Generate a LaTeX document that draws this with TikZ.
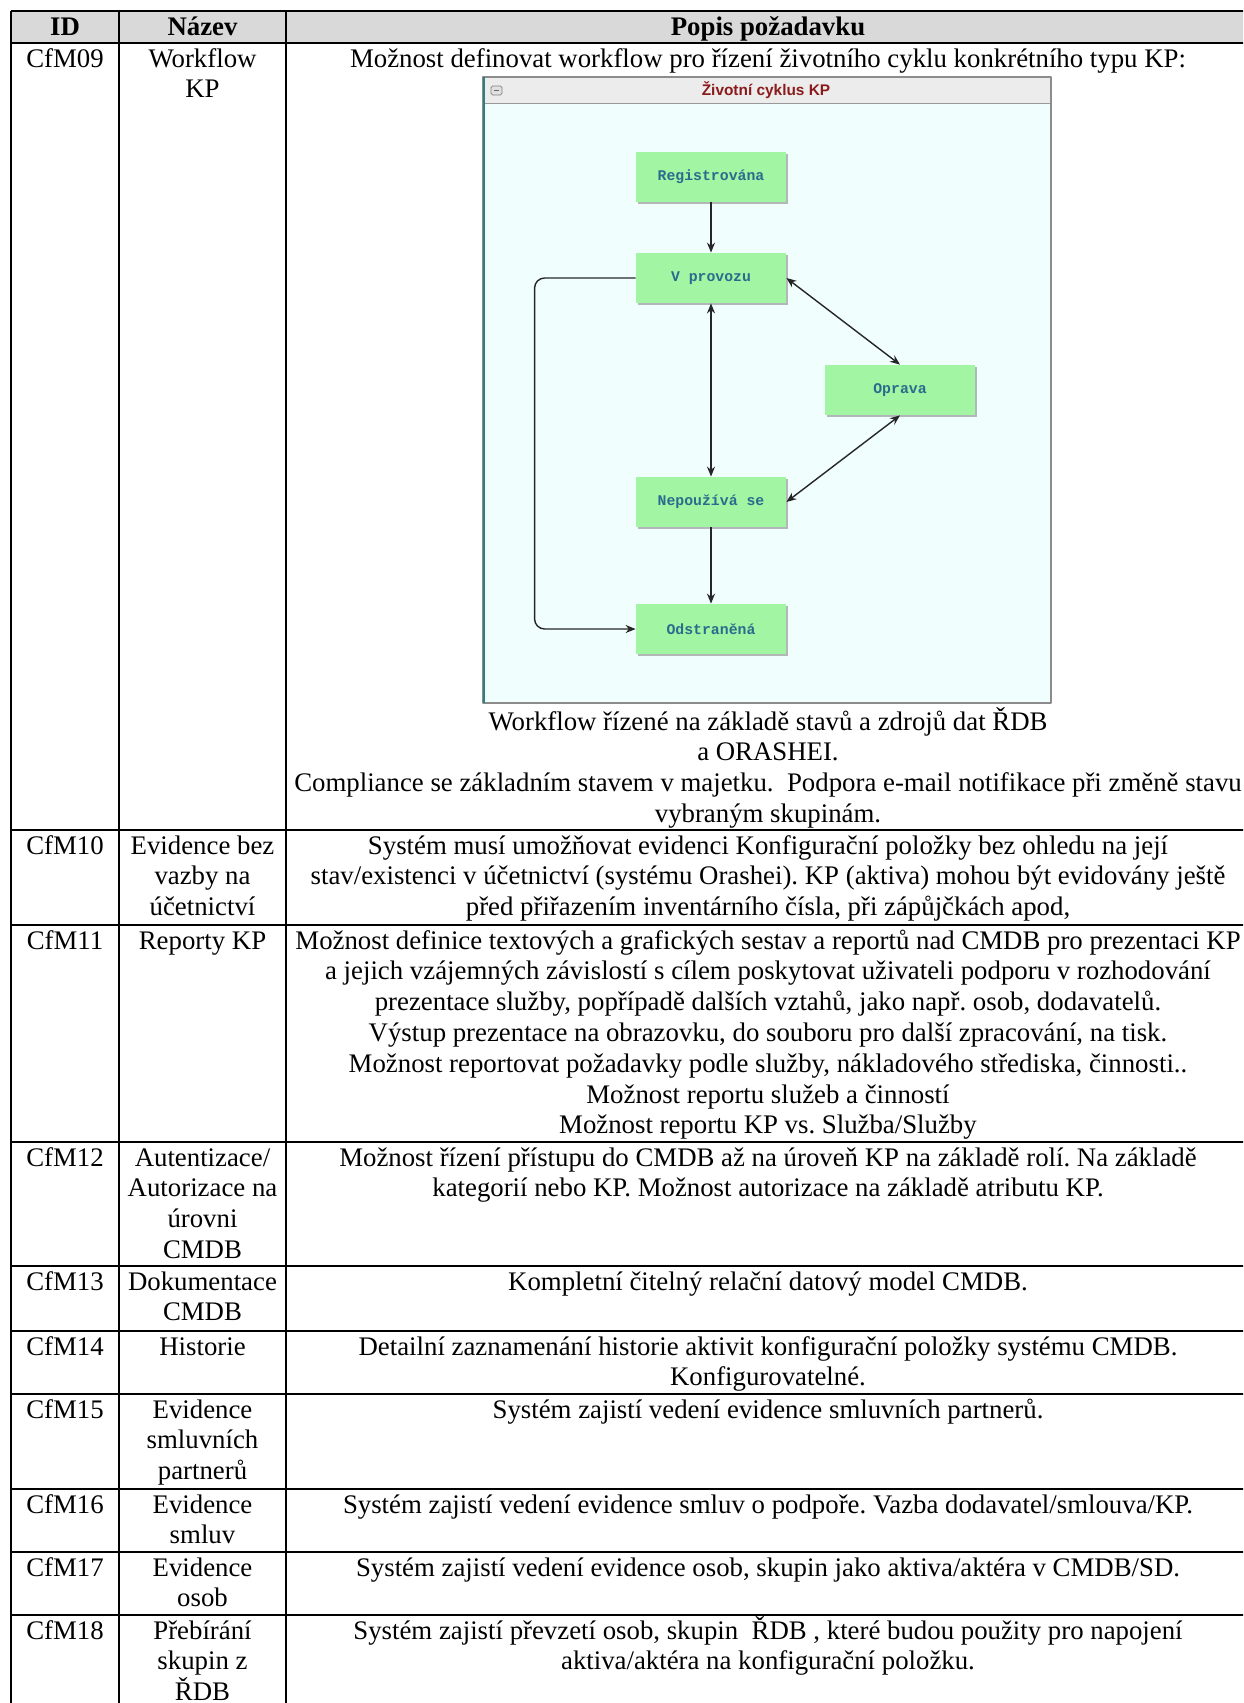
\documentclass[tikz,border=0pt]{standalone}
\usepackage{fontspec}
\setmainfont{Liberation Serif}
\newfontfamily\statefont{Liberation Mono}
\newfontfamily\winfont{Liberation Sans}
\usetikzlibrary{arrows.meta,shadows,positioning}
\definecolor{headgray}{HTML}{D9D9D9}
\definecolor{winbg}{HTML}{F0FEFE}
\definecolor{barbg}{HTML}{ECECEC}
\definecolor{winedge}{HTML}{2E8080}
\definecolor{stategreen}{HTML}{A2F5A2}
\definecolor{statetext}{HTML}{2A6C8E}
\definecolor{titlered}{HTML}{8B1A1A}
\frenchspacing
\tikzset{
  cell/.style={anchor=base, align=center, inner sep=0pt,
    font=\fontsize{13.4}{15.4}\selectfont},
  headcell/.style={cell, font=\fontsize{13.4}{15.4}\selectfont\bfseries},
  tabline/.style={line width=.85pt},
  state/.style={fill=stategreen, minimum width=75pt, minimum height=25pt, inner sep=0pt,
    text=statetext, font=\statefont\bfseries\fontsize{7.4}{9}\selectfont,
    drop shadow={shadow xshift=1.2pt, shadow yshift=-1.2pt, fill=black!40, opacity=.7}},
  flow/.style={-{Stealth[length=5pt,width=4pt]}, line width=.7pt, draw=black!85},
  both/.style={flow, {Stealth[length=5pt,width=4pt]}-{Stealth[length=5pt,width=4pt]}},
}
\begin{document}
\begin{tikzpicture}[x=.5pt,y=-.5pt, line join=round]
  \useasboundingbox (0,0) rectangle (1243,1703);
  \fill[white] (0,0) rectangle (1243,1703);
  \clip (0,0) rectangle (1243,1703);
  \def\xa{11} \def\xb{119} \def\xc{286} \def\xd{1250} % sloupce
  % tabulka (u víceřádkových buněk je bod na účaří posledního řádku)
  \fill[headgray] (\xa,11) rectangle (\xd,43);
  \foreach \y in {11,43,830,925,1142,1266,1331,1394,1489,1552,1615,1710}
    \draw[tabline] (\xa,\y) -- (\xd,\y);
  \foreach \x in {\xa,\xb,\xc,\xd}
    \draw[tabline] (\x,11) -- (\x,1710);
  \node[headcell] (hid) at (65,35) {ID};
  \node[headcell] (hname) at (202.5,35) {Název};
  \node[headcell] (hdesc) at (768,35) {Popis požadavku};
  % CfM09
  \node[cell] (id09) at (65,67) {CfM09};
  \node[cell] (name09) at (202.5,97.8) {Workflow\\KP};
  \node[cell] (desc09) at (768,67) {Možnost definovat workflow pro řízení životního cyklu konkrétního typu KP:};
  \node[cell] (note09) at (768,822.4) {Workflow řízené na základě stavů a zdrojů dat ŘDB\\a ORASHEI.\\Compliance se základním stavem v majetku.\ \ Podpora e-mail notifikace při změně stavu\\vybraným skupinám.};
  % okno s diagramem
  \fill[winbg] (483,77) rectangle (1051,703);
  \fill[barbg] (483,77) rectangle (1051,103);
  \draw[black!40] (483,103) -- (1051,103);
  \draw[black!45, line width=.9pt] (483,77) rectangle (1051,703);
  \draw[winedge, line width=1.3pt] (484,77) -- (484,703);
  \draw[black!50, fill=black!12, rounded corners=.8pt] (491,86) rectangle (502,95);
  \draw[black!60, line width=.8pt] (494,90.5) -- (499,90.5);
  \node[text=titlered, font=\winfont\bfseries\fontsize{7.7}{9}\selectfont] (wtitle) at (766,90) {Životní cyklus KP};
  \node[state] (reg) at (711,176.5) {Registrována};
  \node[state] (vp) at (711,278) {V provozu};
  \node[state] (opr) at (900,390) {Oprava};
  \node[state] (nep) at (711,502) {Nepoužívá se};
  \node[state] (odst) at (711,629) {Odstraněná};
  \draw[flow] (reg) -- (vp);
  \draw[both] (vp) -- (nep);
  \draw[both] (vp.east) -- (opr.north);
  \draw[both] (opr.south) -- (nep.east);
  \draw[flow] (nep) -- (odst);
  \draw[flow, rounded corners=5pt] (vp.west) -- ++(-101,0) |- (odst.west);
  % CfM10
  \node[cell] (id10) at (65,854) {CfM10};
  \node[cell] (name10) at (202.5,915.6) {Evidence bez\\vazby na\\účetnictví};
  \node[cell] (desc10) at (768,915.6) {Systém musí umožňovat evidenci Konfigurační položky bez ohledu na její\\stav/existenci v účetnictví (systému Orashei). KP (aktiva) mohou být evidovány ještě\\před přiřazením inventárního čísla, při zápůjčkách apod,};
  % CfM11
  \node[cell] (id11) at (65,949) {CfM11};
  \node[cell] (name11) at (202.5,949) {Reporty KP};
  \node[cell] (desc11) at (768,1133.8) {Možnost definice textových a grafických sestav a reportů nad CMDB pro prezentaci KP\\a jejich vzájemných závislostí s cílem poskytovat uživateli podporu v rozhodování\\prezentace služby, popřípadě dalších vztahů, jako např. osob, dodavatelů.\\Výstup prezentace na obrazovku, do souboru pro další zpracování, na tisk.\\Možnost reportovat požadavky podle služby, nákladového střediska, činnosti..\\Možnost reportu služeb a činností\\Možnost reportu KP vs. Služba/Služby};
  % CfM12
  \node[cell] (id12) at (65,1166) {CfM12};
  \node[cell] (name12) at (202.5,1258.4) {Autentizace/\\Autorizace na\\úrovni\\CMDB};
  \node[cell] (desc12) at (768,1196.8) {Možnost řízení přístupu do CMDB až na úroveň KP na základě rolí. Na základě\\kategorií nebo KP. Možnost autorizace na základě atributu KP.};
  % CfM13
  \node[cell] (id13) at (65,1290) {CfM13};
  \node[cell] (name13) at (202.5,1320.8) {Dokumentace\\CMDB};
  \node[cell] (desc13) at (768,1290) {Kompletní čitelný relační datový model CMDB.};
  % CfM14
  \node[cell] (id14) at (65,1355) {CfM14};
  \node[cell] (name14) at (202.5,1355) {Historie};
  \node[cell] (desc14) at (768,1385.8) {Detailní zaznamenání historie aktivit konfigurační položky systému CMDB.\\Konfigurovatelné.};
  % CfM15
  \node[cell] (id15) at (65,1418) {CfM15};
  \node[cell] (name15) at (202.5,1479.6) {Evidence\\smluvních\\partnerů};
  \node[cell] (desc15) at (768,1418) {Systém zajistí vedení evidence smluvních partnerů.};
  % CfM16
  \node[cell] (id16) at (65,1513) {CfM16};
  \node[cell] (name16) at (202.5,1543.8) {Evidence\\smluv};
  \node[cell] (desc16) at (768,1513) {Systém zajistí vedení evidence smluv o podpoře. Vazba dodavatel/smlouva/KP.};
  % CfM17
  \node[cell] (id17) at (65,1576) {CfM17};
  \node[cell] (name17) at (202.5,1606.8) {Evidence\\osob};
  \node[cell] (desc17) at (768,1576) {Systém zajistí vedení evidence osob, skupin jako aktiva/aktéra v CMDB/SD.};
  % CfM18
  \node[cell] (id18) at (65,1639) {CfM18};
  \node[cell] (name18) at (202.5,1700.6) {Přebírání\\skupin z\\ŘDB};
  \node[cell] (desc18) at (768,1669.8) {Systém zajistí převzetí osob, skupin\ \ ŘDB , které budou použity pro napojení\\aktiva/aktéra na konfigurační položku.};
\end{tikzpicture}
\end{document}
